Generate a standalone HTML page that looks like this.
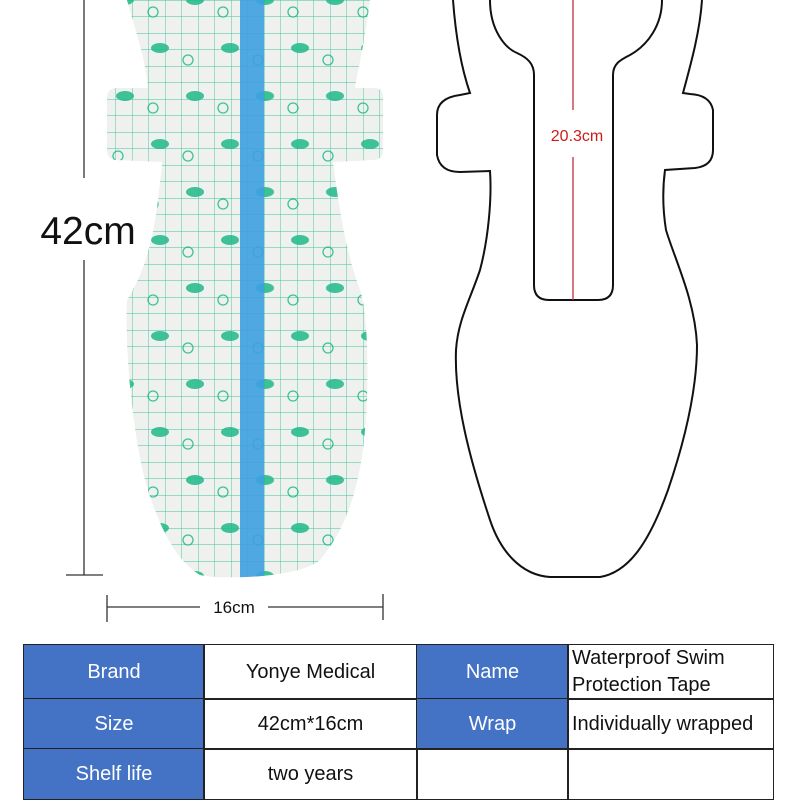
<!DOCTYPE html>
<html><head><meta charset="utf-8"><style>
html,body{margin:0;padding:0;background:#fff;width:800px;height:800px;overflow:hidden;font-family:"Liberation Sans",sans-serif}
svg{position:absolute;left:0;top:0}
.t{position:absolute;font-size:20px;display:flex;align-items:center;justify-content:center;box-sizing:border-box;border:1.5px solid #222;color:#111}
.b{background:#4472c4;color:#fff}
</style></head><body>
<svg width="800" height="640" viewBox="0 0 800 640">
<defs>
<pattern id="g" x="0" y="0" width="16.5" height="16.5" patternUnits="userSpaceOnUse">
<rect width="16.5" height="16.5" fill="#eff1ee"/>
<path d="M0 0H16.5M0 0V16.5" stroke="#3cc49c" stroke-width="0.9"/>
</pattern>
<pattern id="d" x="140" y="40" width="70" height="96" patternUnits="userSpaceOnUse">
<ellipse cx="20" cy="8" rx="9" ry="5" fill="#1fb98a"/>
<circle cx="48" cy="20" r="5" fill="none" stroke="#1fb98a" stroke-width="1.3"/>
<ellipse cx="55" cy="56" rx="9" ry="5" fill="#1fb98a"/>
<circle cx="13" cy="68" r="5" fill="none" stroke="#1fb98a" stroke-width="1.3"/>
</pattern>
<clipPath id="c"><path d="M127 0 L370 0 C365 40 358 70 355 88 L375 88 Q383 88 383 98 L383 150 Q383 160 373 160 L333 162 C338 200 345 250 360 290 C370 320 368 400 365 430 C360 490 345 530 320 560 C300 578 220 580 200 575 C175 560 158 525 145 480 C130 420 125 340 127 300 C140 280 152 250 158 200 C160 180 162 170 162 162 L117 160 Q107 160 107 150 L107 98 Q107 88 117 88 L148 88 C146 60 135 30 127 0Z"/></clipPath>
</defs>
<g clip-path="url(#c)">
<rect x="100" y="0" width="290" height="590" fill="url(#g)"/>
<rect x="100" y="0" width="290" height="590" fill="url(#d)" opacity="0.85"/>
<rect x="240" y="0" width="24" height="590" fill="#3ea0e0" opacity="0.9"/>
</g>
<g stroke="#333" stroke-width="1.3">
<line x1="84" y1="0" x2="84" y2="178"/>
<line x1="84" y1="260" x2="84" y2="575"/>
<line x1="66" y1="575" x2="103" y2="575"/>
<line x1="107" y1="607" x2="200" y2="607"/>
<line x1="268" y1="607" x2="383" y2="607"/>
<line x1="107" y1="595" x2="107" y2="622"/>
<line x1="383" y1="594" x2="383" y2="620"/>
</g>
<text x="88" y="244" font-size="39" text-anchor="middle" fill="#111">42cm</text>
<text x="234" y="613" font-size="17" text-anchor="middle" fill="#111">16cm</text>
<path d="M453 0 C456 40 462 70 470 93 L460 95 Q437 98 437 115 L437 155 Q440 172 460 172 L490 171 C492 200 488 240 480 270 C470 300 458 320 456 350 C454 400 470 460 490 520 C500 550 520 575 550 577 L600 577 C630 572 650 540 668 490 C685 440 697 390 697 345 C695 300 675 260 666 230 C662 205 663 185 665 170 L695 168 Q713 166 713 150 L713 110 Q710 95 690 94 L683 93 C692 60 700 30 702 0" fill="none" stroke="#111" stroke-width="2"/>
<path d="M490 0 C490 30 505 48 517 53 C528 58 534 64 534 75 L534 285 Q534 300 549 300 L598 300 Q613 300 613 285 L613 75 C613 64 620 60 630 55 C648 45 662 25 662 0" fill="none" stroke="#111" stroke-width="2"/>
<line x1="573" y1="0" x2="573" y2="110" stroke="#c0303a" stroke-width="1.3"/>
<line x1="573" y1="157" x2="573" y2="300" stroke="#c0303a" stroke-width="1.3"/>
<text x="577" y="141" font-size="16" text-anchor="middle" fill="#d01a1a">20.3cm</text>
</svg>
<div class="t b" style="left:23px;top:644px;width:182px;height:56px">Brand</div>
<div class="t" style="left:203px;top:644px;width:215px;height:56px">Yonye Medical</div>
<div class="t b" style="left:416px;top:644px;width:153px;height:56px">Name</div>
<div class="t" style="left:567px;top:644px;width:207px;height:56px;justify-content:flex-start;padding-left:4px;line-height:27px">Waterproof Swim<br>Protection Tape</div>
<div class="t b" style="left:23px;top:698px;width:182px;height:52px">Size</div>
<div class="t" style="left:203px;top:698px;width:215px;height:52px">42cm*16cm</div>
<div class="t b" style="left:416px;top:698px;width:153px;height:52px">Wrap</div>
<div class="t" style="left:567px;top:698px;width:207px;height:52px;justify-content:flex-start;padding-left:4px">Individually wrapped</div>
<div class="t b" style="left:23px;top:748px;width:182px;height:52px">Shelf life</div>
<div class="t" style="left:203px;top:748px;width:215px;height:52px">two years</div>
<div class="t" style="left:416px;top:748px;width:153px;height:52px"></div>
<div class="t" style="left:567px;top:748px;width:207px;height:52px"></div>
</body></html>
